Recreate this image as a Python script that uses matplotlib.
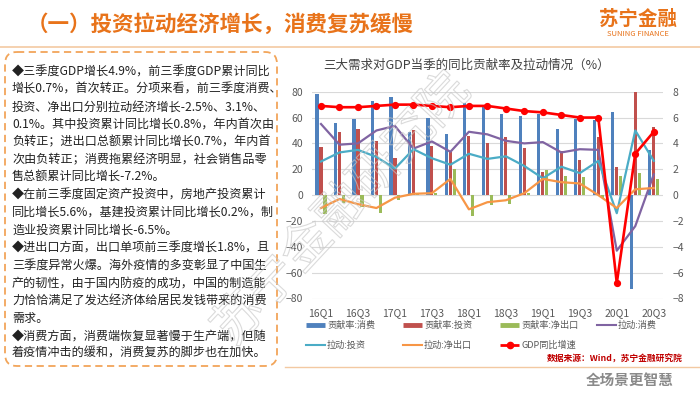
import numpy as np
import matplotlib
matplotlib.use('Agg')
import matplotlib.pyplot as plt
from matplotlib.patches import FancyBboxPatch
import matplotlib.patheffects as pe

plt.rcParams['font.family'] = ['Noto Sans CJK SC', 'DejaVu Sans']

# data (16Q1 .. 20Q3)
quarters = ['16Q1', '16Q2', '16Q3', '16Q4', '17Q1', '17Q2', '17Q3', '17Q4',
            '18Q1', '18Q2', '18Q3', '18Q4', '19Q1', '19Q2', '19Q3', '19Q4',
            '20Q1', '20Q2', '20Q3']
contrib_consume = [78, 56, 59, 73, 76, 49, 60, 47, 71, 68, 63, 61, 63, 51, 59, 58, 64, -73, 35]
contrib_invest = [37, 48.5, 51.5, 41.5, 28.7, 50, 38, 33, 46, 40, 45, 36.4, 17.7, 34.5, 27, 45, 21.5, 156, 53]
contrib_netexp = [-15, -6, -9.5, -13.6, -3.5, 1, 1.5, 20, -16, -8, -7.2, 2, 19.2, 14.6, 13.8, -2, 14.6, 17, 12.8]
pull_consume = [5.5, 3.9, 4.0, 5.0, 5.35, 3.6, 4.15, 3.35, 4.9, 4.7, 4.2, 4.0, 4.1, 3.3, 3.55, 3.5, -4.3, -2.4, 1.6]
pull_invest = [2.6, 3.3, 3.5, 2.95, 2.05, 3.55, 2.85, 2.35, 3.2, 2.8, 3.0, 2.25, 1.3, 2.2, 1.7, 2.65, -1.4, 5.0, 2.65]
pull_netexp = [-1.0, -0.3, -0.7, -1.0, -0.2, 0.1, 0.15, 1.25, -1.1, -0.55, -0.4, 0.15, 1.25, 1.0, 0.9, 0.0, -1.0, 0.45, 0.55]
gdp = [6.9, 6.8, 6.8, 6.9, 7.0, 7.0, 6.9, 6.8, 6.9, 6.9, 6.7, 6.5, 6.4, 6.2, 6.0, 6.0, -6.8, 3.2, 4.9]

text_lines = [
    '◆三季度GDP增长4.9%，前三季度GDP累计同比',
    '增长0.7%，首次转正。分项来看，前三季度消费、',
    '投资、净出口分别拉动经济增长-2.5%、3.1%、',
    '0.1%。其中投资累计同比增长0.8%，年内首次由',
    '负转正；进出口总额累计同比增长0.7%，年内首',
    '次由负转正；消费拖累经济明显，社会销售品零',
    '售总额累计同比增长-7.2%。',
    '◆在前三季度固定资产投资中，房地产投资累计',
    '同比增长5.6%，基建投资累计同比增长0.2%，制',
    '造业投资累计同比增长-6.5%。',
    '◆进出口方面，出口单项前三季度增长1.8%，且',
    '三季度异常火爆。海外疫情的多变彰显了中国生',
    '产的韧性，由于国内防疫的成功，中国的制造能',
    '力恰恰满足了发达经济体给居民发钱带来的消费',
    '需求。',
    '◆消费方面，消费端恢复显著慢于生产端，但随',
    '着疫情冲击的缓和，消费复苏的脚步也在加快。',
]

c_blue = '#4F81BD'
c_red = '#C0504D'
c_green = '#9BBB59'
c_purple = '#8064A2'
c_teal = '#4BACC6'
c_orange = '#F79646'
c_gdp = '#FF0000'
orange = '#E8731A'
W, H = 700, 394

fig = plt.figure(figsize=(7, 3.94), dpi=100)

# background layer in pixel coordinates
bg = fig.add_axes([0, 0, 1, 1], zorder=-1)
bg.set_xlim(0, W)
bg.set_ylim(H, 0)
bg.axis('off')

bg.text(27, 24, '（一）投资拉动经济增长，消费复苏缓慢', fontsize=15.5, fontweight='bold',
        color=orange, va='center', ha='left')
bg.text(638, 19, '苏宁金融', fontsize=14, fontweight='bold', color=orange, ha='center', va='center')
bg.text(638, 34, 'SUNING FINANCE', fontsize=5.5, color=orange, ha='center', va='center')
bg.plot([0, W], [47, 47], color='#F3C9A2', lw=1.2)

box = FancyBboxPatch((5, 52), 272, 314, boxstyle='round,pad=0,rounding_size=12',
                     fill=False, edgecolor='#F2A55A', lw=1.3, ls=(0, (4, 2.5)))
bg.add_patch(box)
for i, line in enumerate(text_lines):
    bg.text(12, 71.7 + i * 17.6, line, fontsize=8.7, color='#222222', va='center', ha='left')

bg.plot([285, W], [367, 367], color='#F3C9A2', lw=1.0)
bg.text(683, 359, '数据来源：Wind，苏宁金融研究院', fontsize=6.3, color='#C00000',
        fontweight='bold', style='italic', ha='right', va='center')
bg.text(630, 380, '全场景更智慧', fontsize=10.5, color='#8a8a8a', fontweight='bold',
        style='italic', ha='center', va='center')

# legend drawn by hand
legend_items = [
    ('贡献率:消费', c_blue, 'bar'), ('贡献率:投资', c_red, 'bar'),
    ('贡献率:净出口', c_green, 'bar'), ('拉动:消费', c_purple, 'line'),
    ('拉动:投资', c_teal, 'line'), ('拉动:净出口', c_orange, 'line'),
    ('GDP同比增速', c_gdp, 'gdp'),
]
for k, (lab, col, kind) in enumerate(legend_items):
    lx = 306 + (k % 4) * 97
    ly = 325 + (k // 4) * 20
    if kind == 'bar':
        bg.plot([lx, lx + 19], [ly, ly], color=col, lw=3.5, solid_capstyle='butt')
    elif kind == 'line':
        bg.plot([lx, lx + 19], [ly, ly], color=col, lw=1.5)
    else:
        bg.plot([lx, lx + 19], [ly, ly], color=col, lw=2, solid_capstyle='butt')
        bg.plot([lx + 9.5], [ly], color=col, marker='o', markersize=4.5)
    bg.text(lx + 21, ly, lab, fontsize=6.6, color='#595959', va='center', ha='left')

# chart
x = np.arange(len(quarters))
left, right, top, bottom = 311.75, 663, 91.7, 298.5
ax = fig.add_axes([left / W, 1 - bottom / H, (right - left) / W, (bottom - top) / H])
bw = 0.17
off = 0.215
ax.bar(x - off, contrib_consume, bw, color=c_blue, zorder=2)
ax.bar(x, contrib_invest, bw, color=c_red, zorder=2)
ax.bar(x + off, contrib_netexp, bw, color=c_green, zorder=2)
ax.set_xlim(-0.5, len(quarters) - 0.5)
ax.set_ylim(-80, 80)
ax.set_yticks(range(-80, 81, 20))
ax.set_xticks(x[::2])
ax.set_xticklabels(quarters[::2])
ax.yaxis.grid(True, color='#D9D9D9', lw=0.8)
ax.set_axisbelow(True)
for s in ax.spines.values():
    s.set_visible(False)
ax.tick_params(length=0, labelsize=7.5, labelcolor='#595959')
ax.tick_params(axis='y', pad=6)
ax.tick_params(axis='x', pad=7)

ax2 = ax.twinx()
ax2.plot(x, pull_consume, color=c_purple, lw=1.6)
ax2.plot(x, pull_invest, color=c_teal, lw=1.6)
ax2.plot(x, pull_netexp, color=c_orange, lw=1.6)
ax2.plot(x, gdp, color=c_gdp, lw=1.9, marker='o', markersize=4.2)
ax2.set_ylim(-8, 8)
ax2.set_yticks(range(-8, 9, 2))
for s in ax2.spines.values():
    s.set_visible(False)
ax2.tick_params(length=0, labelsize=7.5, labelcolor='#595959', pad=7)

bg.text(467, 65, '三大需求对GDP当季的同比贡献率及拉动情况（%）', fontsize=9, color='#404040',
        ha='center', va='center')

# watermark (outlined text)
fig.text(342 / W, 1 - 210 / H, '苏宁金融研究院', fontsize=36, rotation=47,
         ha='center', va='center', color='none', zorder=10,
         path_effects=[pe.withStroke(linewidth=0.8, foreground=(0.78, 0.78, 0.78, 0.65))])

fig.savefig('out.png', dpi=100)
